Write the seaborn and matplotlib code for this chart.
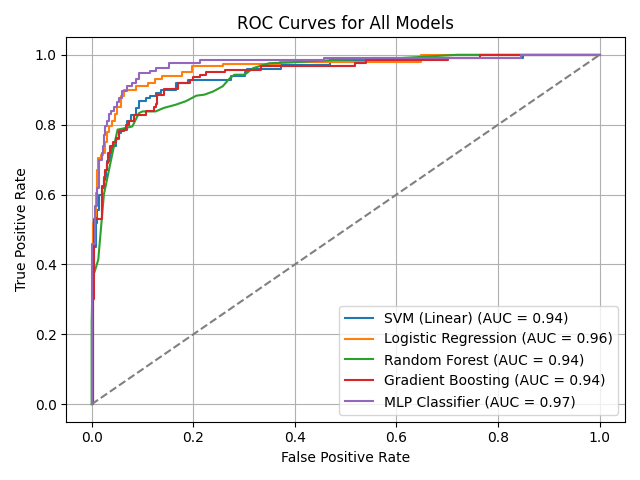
import matplotlib
matplotlib.use("Agg")
import matplotlib.pyplot as plt
import seaborn as sns

# Puntos de las curvas ROC (fpr, tpr)
svm_fpr = [0, 0.002, 0.009, 0.011, 0.015, 0.02, 0.025, 0.028, 0.031, 0.036, 0.041, 0.048,
           0.054, 0.057, 0.07, 0.078, 0.087, 0.093, 0.106, 0.115, 0.126, 0.136, 0.166, 0.19,
           0.275, 0.301, 0.305, 0.373, 0.469, 0.55, 0.849, 1.0]
svm_tpr = [0, 0.45, 0.52, 0.557, 0.6, 0.62, 0.65, 0.671, 0.695, 0.72, 0.738, 0.76,
           0.776, 0.786, 0.81, 0.829, 0.848, 0.867, 0.876, 0.883, 0.89, 0.9, 0.919, 0.927,
           0.94, 0.95, 0.959, 0.972, 0.984, 0.99, 1.0, 1.0]

lr_fpr = [0, 0.002, 0.003, 0.007, 0.008, 0.011, 0.013, 0.018, 0.022, 0.026, 0.03, 0.034,
          0.04, 0.046, 0.05, 0.057, 0.064, 0.087, 0.11, 0.125, 0.139, 0.178, 0.198, 0.258,
          0.37, 0.649, 1.0]
lr_tpr = [0, 0.40, 0.52, 0.538, 0.605, 0.671, 0.705, 0.714, 0.72, 0.75, 0.78, 0.795,
          0.81, 0.83, 0.85, 0.881, 0.9, 0.91, 0.919, 0.93, 0.94, 0.952, 0.969, 0.974,
          0.98, 1.0, 1.0]

rf_fpr = [0, 0, 0.002, 0.006, 0.013, 0.024, 0.041, 0.051, 0.065, 0.08, 0.093, 0.1, 0.126,
          0.142, 0.165, 0.185, 0.206, 0.222, 0.239, 0.258, 0.272, 0.281, 0.301, 0.318, 0.35,
          0.39, 0.488, 0.6, 0.72, 1.0]
rf_tpr = [0, 0.234, 0.367, 0.38, 0.414, 0.6, 0.719, 0.786, 0.79, 0.795, 0.833, 0.838, 0.838,
          0.848, 0.857, 0.867, 0.883, 0.886, 0.895, 0.91, 0.933, 0.943, 0.943, 0.962, 0.976,
          0.978, 0.986, 0.99, 1.0, 1.0]

gb_fpr = [0, 0.002, 0.003, 0.004, 0.02, 0.024, 0.026, 0.03, 0.032, 0.037, 0.042, 0.047,
          0.054, 0.064, 0.068, 0.073, 0.083, 0.106, 0.123, 0.127, 0.129, 0.142, 0.169, 0.193,
          0.2, 0.213, 0.226, 0.263, 0.334, 0.518, 0.541, 0.701, 0.764, 1.0]
gb_tpr = [0, 0.063, 0.3, 0.529, 0.624, 0.643, 0.671, 0.69, 0.719, 0.738, 0.75, 0.762,
          0.781, 0.786, 0.80, 0.81, 0.829, 0.838, 0.852, 0.86, 0.886, 0.902, 0.919, 0.929,
          0.936, 0.941, 0.95, 0.957, 0.967, 0.976, 0.986, 0.99, 1.0, 1.0]

mlp_fpr = [0, 0.001, 0.006, 0.01, 0.014, 0.02, 0.022, 0.024, 0.026, 0.03, 0.034, 0.038,
           0.044, 0.05, 0.054, 0.06, 0.0695, 0.08, 0.087, 0.093, 0.114, 0.127, 0.153, 0.213,
           0.457, 0.846, 1.0]
mlp_tpr = [0, 0.46, 0.567, 0.62, 0.70, 0.72, 0.74, 0.77, 0.797, 0.81, 0.83, 0.84,
           0.85, 0.865, 0.876, 0.895, 0.91, 0.918, 0.93, 0.948, 0.955, 0.962, 0.976, 0.984,
           0.992, 1.0, 1.0]

model_names = ["SVM (Linear)", "Logistic Regression", "Random Forest",
               "Gradient Boosting", "MLP Classifier"]
auc_scores = [0.94, 0.96, 0.94, 0.94, 0.97]

curves = [(svm_fpr, svm_tpr), (lr_fpr, lr_tpr), (rf_fpr, rf_tpr),
          (gb_fpr, gb_tpr), (mlp_fpr, mlp_tpr)]
colors = sns.color_palette("tab10", 5)

plt.figure(figsize=(6.4, 4.8), dpi=100)
for name, auc, (fpr, tpr), color in zip(model_names, auc_scores, curves, colors):
    # Random Forest tiene muchos umbrales, se dibuja como línea continua
    estilo = "default" if name == "Random Forest" else "steps-post"
    sns.lineplot(x=fpr, y=tpr, sort=False, estimator=None, color=color,
                 drawstyle=estilo, label=f"{name} (AUC = {auc:.2f})")

plt.plot([0, 1], [0, 1], color="gray", linestyle="--")
plt.xlabel("False Positive Rate")
plt.ylabel("True Positive Rate")
plt.title("ROC Curves for All Models")
plt.legend(loc="lower right")
plt.grid(True)
plt.tight_layout()
plt.savefig("out.png")
plt.close()
